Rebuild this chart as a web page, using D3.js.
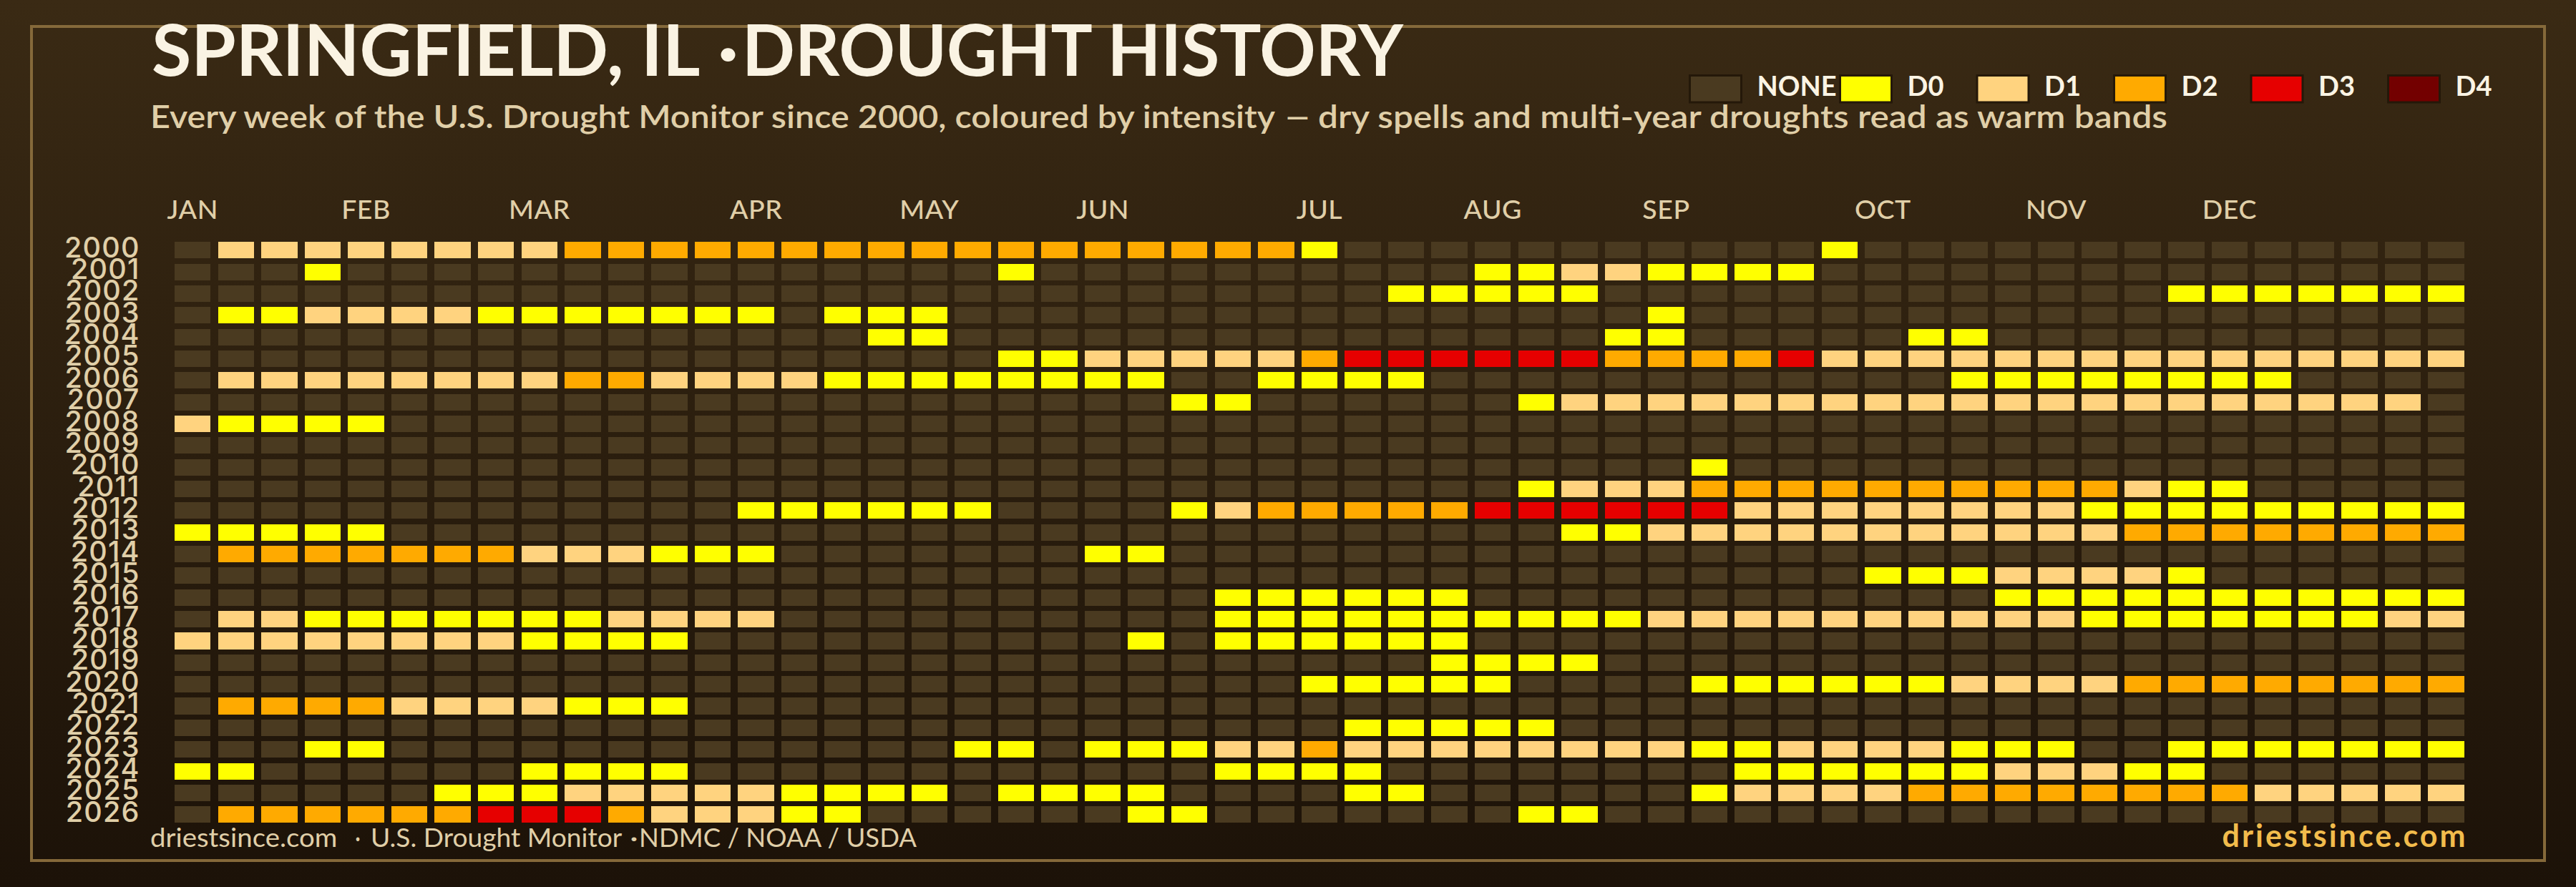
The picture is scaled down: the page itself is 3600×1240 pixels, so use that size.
<!DOCTYPE html>
<html>
<head>
<meta charset="utf-8">
<script src="https://cdn.jsdelivr.net/npm/d3@7"></script>
<style>
html,body{margin:0;padding:0;background:#1c1208}
svg{display:block}
text{font-family:Lato,"Noto Sans",sans-serif}
</style>
</head>
<body>
<div id="chart"></div>
<script>
const titleParts = ["SPRINGFIELD, IL ","·","DROUGHT HISTORY"];
const subtitleParts = ["Every week of the U.S. Drought Monitor since 2000, coloured by intensity ","— ","dry spells and multi-year droughts read as warm bands"];
const sourceParts = ["driestsince.com  ","· ","U.S. Drought Monitor ","·","NDMC / NOAA / USDA"];
const brandText = "driestsince.com";

const levelNames = ["NONE","D0","D1","D2","D3","D4"];
const levelColors = ["#4a3a20","#ffff00","#ffd37f","#ffaa00","#e60000","#730000"];

const monthNames = ["JAN","FEB","MAR","APR","MAY","JUN","JUL","AUG","SEP","OCT","NOV","DEC"];
const monthWeeks = [0,4,8,13,17,21,26,30,34,39,43,47];
const weeks = Array.from({length:53},(_,i)=>i);

const years = [2000,2001,2002,2003,2004,2005,2006,2007,2008,2009,2010,2011,2012,2013,2014,2015,2016,2017,2018,2019,2020,2021,2022,2023,2024,2025,2026];

/* weekly drought level per year: 0 none, 1 D0, 2 D1, 3 D2, 4 D3, 5 D4 */
const weeklyLevels = [
/*2000*/[0,2,2,2,2,2,2,2,2,3, 3,3,3,3,3,3,3,3,3,3, 3,3,3,3,3,3,1,0,0,0, 0,0,0,0,0,0,0,0,1,0, 0,0,0,0,0,0,0,0,0,0,0,0,0],
/*2001*/[0,0,0,1,0,0,0,0,0,0, 0,0,0,0,0,0,0,0,0,1, 0,0,0,0,0,0,0,0,0,0, 1,1,2,2,1,1,1,1,0,0, 0,0,0,0,0,0,0,0,0,0,0,0,0],
/*2002*/[0,0,0,0,0,0,0,0,0,0, 0,0,0,0,0,0,0,0,0,0, 0,0,0,0,0,0,0,0,1,1, 1,1,1,0,0,0,0,0,0,0, 0,0,0,0,0,0,1,1,1,1,1,1,1],
/*2003*/[0,1,1,2,2,2,2,1,1,1, 1,1,1,1,0,1,1,1,0,0, 0,0,0,0,0,0,0,0,0,0, 0,0,0,0,1,0,0,0,0,0, 0,0,0,0,0,0,0,0,0,0,0,0,0],
/*2004*/[0,0,0,0,0,0,0,0,0,0, 0,0,0,0,0,0,1,1,0,0, 0,0,0,0,0,0,0,0,0,0, 0,0,0,1,1,0,0,0,0,0, 1,1,0,0,0,0,0,0,0,0,0,0,0],
/*2005*/[0,0,0,0,0,0,0,0,0,0, 0,0,0,0,0,0,0,0,0,1, 1,2,2,2,2,2,3,4,4,4, 4,4,4,3,3,3,3,4,2,2, 2,2,2,2,2,2,2,2,2,2,2,2,2],
/*2006*/[0,2,2,2,2,2,2,2,2,3, 3,2,2,2,2,1,1,1,1,1, 1,1,1,0,0,1,1,1,1,0, 0,0,0,0,0,0,0,0,0,0, 0,1,1,1,1,1,1,1,1,0,0,0,0],
/*2007*/[0,0,0,0,0,0,0,0,0,0, 0,0,0,0,0,0,0,0,0,0, 0,0,0,1,1,0,0,0,0,0, 0,1,2,2,2,2,2,2,2,2, 2,2,2,2,2,2,2,2,2,2,2,2,0],
/*2008*/[2,1,1,1,1,0,0,0,0,0, 0,0,0,0,0,0,0,0,0,0, 0,0,0,0,0,0,0,0,0,0, 0,0,0,0,0,0,0,0,0,0, 0,0,0,0,0,0,0,0,0,0,0,0,0],
/*2009*/[0,0,0,0,0,0,0,0,0,0, 0,0,0,0,0,0,0,0,0,0, 0,0,0,0,0,0,0,0,0,0, 0,0,0,0,0,0,0,0,0,0, 0,0,0,0,0,0,0,0,0,0,0,0,0],
/*2010*/[0,0,0,0,0,0,0,0,0,0, 0,0,0,0,0,0,0,0,0,0, 0,0,0,0,0,0,0,0,0,0, 0,0,0,0,0,1,0,0,0,0, 0,0,0,0,0,0,0,0,0,0,0,0,0],
/*2011*/[0,0,0,0,0,0,0,0,0,0, 0,0,0,0,0,0,0,0,0,0, 0,0,0,0,0,0,0,0,0,0, 0,1,2,2,2,3,3,3,3,3, 3,3,3,3,3,2,1,1,0,0,0,0,0],
/*2012*/[0,0,0,0,0,0,0,0,0,0, 0,0,0,1,1,1,1,1,1,0, 0,0,0,1,2,3,3,3,3,3, 4,4,4,4,4,4,2,2,2,2, 2,2,2,2,1,1,1,1,1,1,1,1,1],
/*2013*/[1,1,1,1,1,0,0,0,0,0, 0,0,0,0,0,0,0,0,0,0, 0,0,0,0,0,0,0,0,0,0, 0,0,1,1,2,2,2,2,2,2, 2,2,2,2,2,3,3,3,3,3,3,3,3],
/*2014*/[0,3,3,3,3,3,3,3,2,2, 2,1,1,1,0,0,0,0,0,0, 0,1,1,0,0,0,0,0,0,0, 0,0,0,0,0,0,0,0,0,0, 0,0,0,0,0,0,0,0,0,0,0,0,0],
/*2015*/[0,0,0,0,0,0,0,0,0,0, 0,0,0,0,0,0,0,0,0,0, 0,0,0,0,0,0,0,0,0,0, 0,0,0,0,0,0,0,0,0,1, 1,1,2,2,2,2,1,0,0,0,0,0,0],
/*2016*/[0,0,0,0,0,0,0,0,0,0, 0,0,0,0,0,0,0,0,0,0, 0,0,0,0,1,1,1,1,1,1, 0,0,0,0,0,0,0,0,0,0, 0,0,1,1,1,1,1,1,1,1,1,1,1],
/*2017*/[0,2,2,1,1,1,1,1,1,1, 2,2,2,2,0,0,0,0,0,0, 0,0,0,0,1,1,1,1,1,1, 1,1,1,1,2,2,2,2,2,2, 2,2,2,2,1,1,1,1,1,1,1,2,2],
/*2018*/[2,2,2,2,2,2,2,2,1,1, 1,1,0,0,0,0,0,0,0,0, 0,0,1,0,1,1,1,1,1,1, 0,0,0,0,0,0,0,0,0,0, 0,0,0,0,0,0,0,0,0,0,0,0,0],
/*2019*/[0,0,0,0,0,0,0,0,0,0, 0,0,0,0,0,0,0,0,0,0, 0,0,0,0,0,0,0,0,0,1, 1,1,1,0,0,0,0,0,0,0, 0,0,0,0,0,0,0,0,0,0,0,0,0],
/*2020*/[0,0,0,0,0,0,0,0,0,0, 0,0,0,0,0,0,0,0,0,0, 0,0,0,0,0,0,1,1,1,1, 1,0,0,0,0,1,1,1,1,1, 1,2,2,2,2,3,3,3,3,3,3,3,3],
/*2021*/[0,3,3,3,3,2,2,2,2,1, 1,1,0,0,0,0,0,0,0,0, 0,0,0,0,0,0,0,0,0,0, 0,0,0,0,0,0,0,0,0,0, 0,0,0,0,0,0,0,0,0,0,0,0,0],
/*2022*/[0,0,0,0,0,0,0,0,0,0, 0,0,0,0,0,0,0,0,0,0, 0,0,0,0,0,0,0,1,1,1, 1,1,0,0,0,0,0,0,0,0, 0,0,0,0,0,0,0,0,0,0,0,0,0],
/*2023*/[0,0,0,1,1,0,0,0,0,0, 0,0,0,0,0,0,0,0,1,1, 0,1,1,1,2,2,3,2,2,2, 2,2,2,2,2,1,1,2,2,2, 2,1,1,1,0,0,1,1,1,1,1,1,1],
/*2024*/[1,1,0,0,0,0,0,0,1,1, 1,1,0,0,0,0,0,0,0,0, 0,0,0,0,1,1,1,1,0,0, 0,0,0,0,0,0,1,1,1,1, 1,1,2,2,2,1,1,0,0,0,0,0,0],
/*2025*/[0,0,0,0,0,0,1,1,1,2, 2,2,2,2,1,1,1,1,0,1, 1,1,1,0,0,0,0,1,1,0, 0,0,0,0,0,1,2,2,2,2, 3,3,3,3,3,3,3,3,2,2,2,2,2],
/*2026*/[0,3,3,3,3,3,3,4,4,4, 3,2,2,2,1,1,0,0,0,0, 0,0,1,1,0,0,0,0,0,0, 0,1,1,0,0,0,0,0,0,0, 0,0,0,0,0,0,0,0,0,0,0,0,0]
];

const W = 3600, H = 1240;
const svg = d3.select("#chart").append("svg").attr("width",W).attr("height",H);

const grad = svg.append("defs").append("linearGradient").attr("id","bg")
  .attr("x1",0).attr("y1",0).attr("x2",0).attr("y2",1);
grad.append("stop").attr("offset","0%").attr("stop-color","#3a2a14");
grad.append("stop").attr("offset","100%").attr("stop-color","#1c1208");
svg.append("rect").attr("width",W).attr("height",H).attr("fill","url(#bg)");
svg.append("rect").attr("x",44).attr("y",37).attr("width",3512).attr("height",1166)
  .attr("fill","none").attr("stroke","#85693a").attr("stroke-width",4);

const x = d3.scaleBand().domain(weeks).range([244,3443.9]).paddingInner(0.167).paddingOuter(0);
const y = d3.scaleBand().domain(years).range([338.2,1150.3]).paddingInner(0.24).paddingOuter(0);
const color = d3.scaleOrdinal().domain(d3.range(levelNames.length)).range(levelColors);

const cells = years.flatMap((yr,r)=>weeklyLevels[r].map((lv,w)=>({yr,w,lv})));
svg.append("g").attr("shape-rendering","crispEdges").selectAll("rect").data(cells).join("rect")
  .attr("x",d=>x(d.w)).attr("y",d=>y(d.yr))
  .attr("width",x.bandwidth()).attr("height",y.bandwidth())
  .attr("fill",d=>color(d.lv));

const yAxis = d3.axisLeft(y).tickSize(0).tickPadding(48.4).offset(0).tickFormat(d3.format("d"));
const gy = svg.append("g").attr("transform","translate(244,0)").call(yAxis);
gy.select(".domain").remove();
gy.selectAll("text").attr("dy",10).attr("fill","#e0cfa8").style("font-family","Inter").style("font-size","39.5px").style("font-weight",500).style("letter-spacing","1.2px");

const xAxis = d3.axisTop(x).tickValues(monthWeeks).tickSize(0).tickPadding(0).offset(0)
  .tickFormat(w=>monthNames[monthWeeks.indexOf(w)]);
const gx = svg.append("g").attr("transform","translate(0,306)").call(xAxis);
gx.select(".domain").remove();
gx.selectAll("text").attr("dy",0).attr("fill","#e0cfa8").style("font-family","Lato").style("font-size","37.5px").style("font-weight",500).style("letter-spacing","0.5px");

function label(parts,placement,py,size,weight,fill){
  const el = svg.append("text").attr("y",py).attr("xml:space","preserve").style("white-space","pre")
    .attr("font-size",size).attr("font-weight",weight).attr("fill",fill);
  el.selectAll("tspan").data(parts).join("tspan")
    .attr("x",(d,i)=>placement[i][0])
    .attr("textLength",(d,i)=>placement[i][1])
    .attr("lengthAdjust","spacingAndGlyphs")
    .text(d=>d);
  return el;
}
label(titleParts,[[212,788],[1003,29],[1037,924]],105.5,99,700,"#faf3e3");
label(subtitleParts,[[210,1583],[1797,43],[1842,1187]],179,43.5,600,"#e0cfa8");
label(sourceParts,[[210,281],[496,16],[518,360],[880,12],[893,388]],1184,36,400,"#e0cfa8");
svg.append("text").attr("x",3105.5).attr("y",1184).text(brandText)
  .attr("font-size",43).attr("font-weight",700).attr("fill","#f2bc4c")
  .attr("textLength",340).attr("lengthAdjust","spacing");

const legendX = d3.scalePoint().domain(levelNames.slice(1)).range([2570,3336]);
const legend = svg.append("g").selectAll("g").data(levelNames).join("g")
  .attr("transform",d=>`translate(${d==="NONE"?2360:legendX(d)},0)`);
legend.append("rect").attr("x",1.5).attr("y",105.5).attr("width",72).attr("height",37.5)
  .attr("fill",(d,i)=>levelColors[i]).attr("stroke","#241809").attr("stroke-width",3);
legend.append("text").attr("x",95.5).attr("y",134).text(d=>d)
  .attr("font-size",38).attr("font-weight",700).attr("fill","#fbf4e4");
</script>
</body>
</html>
